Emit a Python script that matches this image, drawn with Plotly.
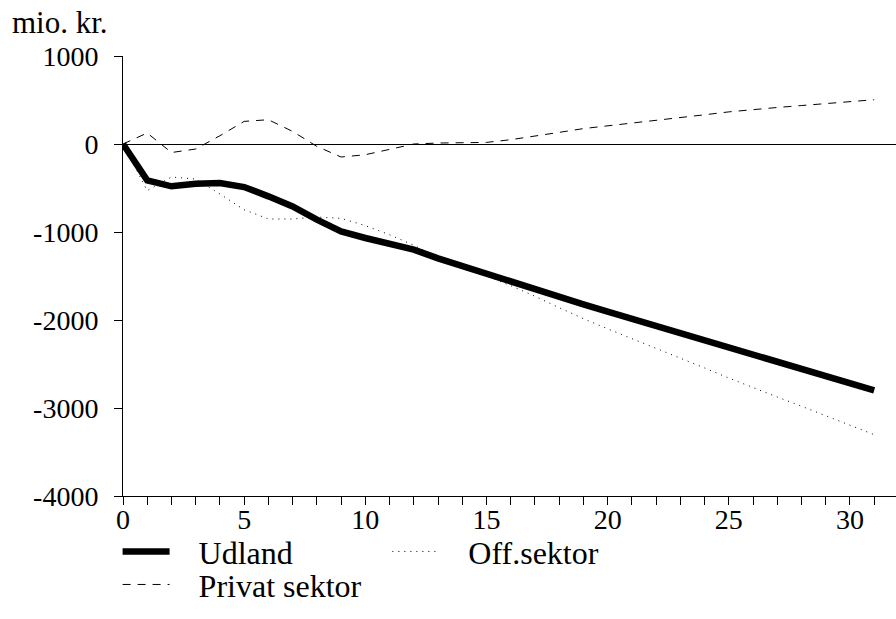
import plotly.graph_objects as go

# Quarters after the shock
periods = list(range(32))

# Effect on sector balances, mio. kr.
udland = [0, -413, -481, -451, -443, -489, -595, -709, -860, -993,
          -1068, -1133, -1201, -1300, -1390, -1475, -1570, -1655, -1740, -1822,
          -1905, -1987, -2070, -2150, -2232, -2315, -2393, -2474, -2556, -2637,
          -2719, -2800]
off_sektor = [0, -530, -375, -398, -568, -747, -852, -852, -830, -845,
              -928, -1031, -1150, -1290, -1400, -1500, -1610, -1730, -1860, -1985,
              -2100, -2210, -2320, -2430, -2545, -2660, -2770, -2875, -2980, -3085,
              -3195, -3303]
privat_sektor = [0, 125, -97, -57, 94, 257, 276, 143, -27, -148,
                 -122, -57, 0, 11, 15, 18, 49, 87, 132, 175,
                 205, 237, 268, 300, 332, 365, 393, 415, 437, 459,
                 481, 503]

y_ticks = [1000, 0, -1000, -2000, -3000, -4000]

FONT = "Liberation Serif, Times New Roman, serif"
TICK_SIZE = 28
TEXT_SIZE = 32
pad = "\u00a0" * 3

fig = go.Figure()
fig.add_trace(go.Scatter(x=periods, y=udland, mode="lines", name=pad + "Udland",
                         line=dict(color="black", width=6.5), legend="legend"))
fig.add_trace(go.Scatter(x=periods, y=off_sektor, mode="lines", name=pad + "Off.sektor",
                         line=dict(color="black", width=1, dash="1px,5px"), legend="legend2"))
fig.add_trace(go.Scatter(x=periods, y=privat_sektor, mode="lines", name=pad + "Privat sektor",
                         line=dict(color="black", width=1, dash="8px,7px"), legend="legend3"))

legend_common = dict(xanchor="left", yanchor="top", itemwidth=47,
                     font=dict(family=FONT, size=TEXT_SIZE, color="black"),
                     bgcolor="rgba(0,0,0,0)", borderwidth=0)

fig.update_layout(
    width=896, height=619,
    margin=dict(l=123, r=0, t=56, b=123, autoexpand=False),
    paper_bgcolor="white", plot_bgcolor="white",
    font=dict(family=FONT, size=TEXT_SIZE, color="black"),
    showlegend=True,
    legend=dict(x=-0.007, y=-0.064, **legend_common),
    legend2=dict(x=0.342, y=-0.064, **legend_common),
    legend3=dict(x=-0.007, y=-0.139, **legend_common),
    xaxis=dict(range=[0, 31.9], tickmode="linear", tick0=0, dtick=5,
               ticks="outside", ticklen=8, tickcolor="black",
               showline=True, linecolor="black", linewidth=1,
               showgrid=False, zeroline=False, automargin=False,
               ticklabelstandoff=-10,
               minor=dict(dtick=1, tick0=0, ticks="outside", ticklen=8, tickcolor="black",
                          showgrid=False),
               tickfont=dict(family=FONT, size=TICK_SIZE, color="black")),
    yaxis=dict(range=[-4000, 1000], tickmode="array", tickvals=y_ticks,
               ticktext=[str(v) for v in y_ticks],
               ticks="outside", ticklen=8, tickcolor="black",
               showline=True, linecolor="black", linewidth=1,
               showgrid=False, zeroline=True, zerolinecolor="black", zerolinewidth=1,
               ticklabelstandoff=10, automargin=False,
               tickfont=dict(family=FONT, size=TICK_SIZE, color="black")),
    annotations=[dict(text="mio. kr.", xref="paper", yref="paper", x=-0.146, y=1.032,
                      xanchor="left", yanchor="bottom", showarrow=False,
                      font=dict(family=FONT, size=31, color="black"))],
)

fig.write_html("out.html")
